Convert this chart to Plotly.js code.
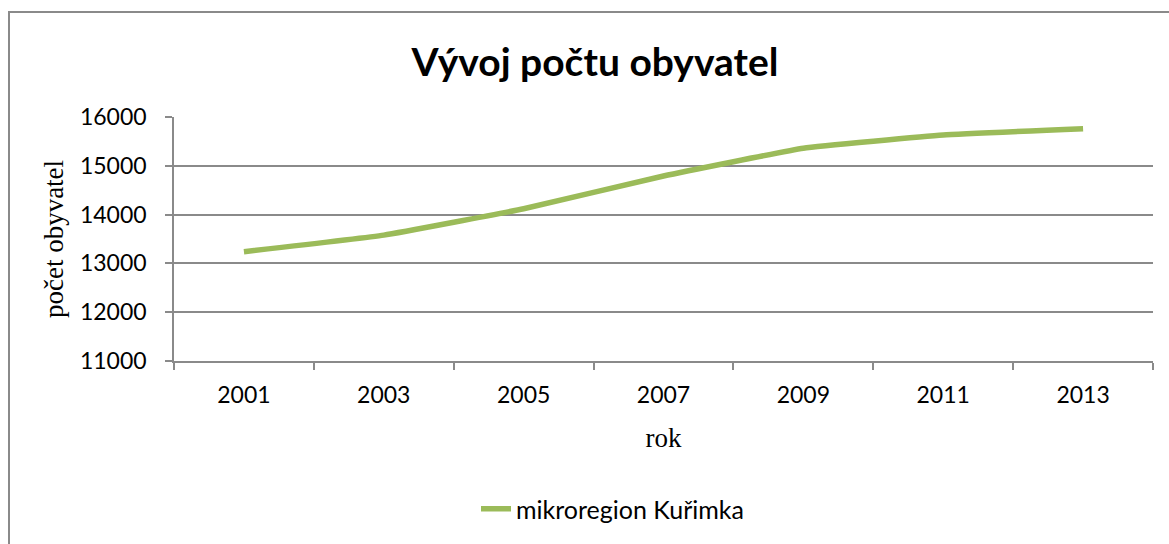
<!DOCTYPE html>
<html>
<head>
<meta charset="utf-8">
<script src="https://cdn.plot.ly/plotly-3.0.1.min.js"></script>
<style>
  html, body { margin: 0; padding: 0; background: #ffffff; }
  #wrap { position: relative; width: 1169px; height: 544px; overflow: hidden; }
  #chart { position: absolute; left: 0; top: 0; width: 1169px; height: 544px; }
  #frame { position: absolute; left: 8px; top: 11px; width: 1200px; height: 600px;
           border-left: 2px solid #8a8a8a; border-top: 2px solid #8a8a8a; pointer-events: none; }
</style>
</head>
<body>
<div id="wrap">
  <div id="chart"></div>
  <div id="frame"></div>
</div>
<script>
// Data
const years = ["2001", "2003", "2005", "2007", "2009", "2011", "2013"];
const population = [13240, 13580, 14120, 14790, 15360, 15630, 15760];
const seriesName = "mikroregion Kuřimka";
const chartTitle = "Vývoj počtu obyvatel";
const xTitle = "rok";
const yTitle = "počet obyvatel";
const yTicks = [11000, 12000, 13000, 14000, 15000, 16000];

const gridColor = "#8a8a8a";

const trace = {
  x: years,
  y: population,
  type: "scatter",
  mode: "lines",
  name: seriesName,
  line: { color: "#9bbb59", width: 5.5, shape: "spline", smoothing: 0.3 },
  hoverinfo: "x+y"
};

const layout = {
  width: 1169,
  height: 544,
  margin: { l: 174, r: 16, t: 117, b: 183 },
  paper_bgcolor: "#ffffff",
  plot_bgcolor: "#ffffff",
  title: {
    text: "<b>" + chartTitle + "</b>",
    font: { family: "Lato, 'Open Sans', sans-serif", size: 39, color: "#000000" },
    xref: "container", yref: "container",
    x: 595 / 1169, xanchor: "center",
    y: 1 - 62 / 544, yanchor: "middle"
  },
  xaxis: {
    type: "category",
    range: [-0.5, 6.5],
    showgrid: false,
    zeroline: false,
    showline: true,
    linecolor: gridColor,
    linewidth: 1.5,
    ticks: "outside",
    tickson: "boundaries",
    ticklen: 7,
    tickwidth: 1.5,
    tickcolor: gridColor,
    ticklabelstandoff: 13,
    tickfont: { family: "Lato, sans-serif", size: 23, color: "#000000" },
    title: {
      text: xTitle,
      font: { family: "'Liberation Serif', 'Times New Roman', serif", size: 27, color: "#000000" },
      standoff: 21
    },
    fixedrange: true
  },
  yaxis: {
    range: [11000, 16000],
    tickvals: yTicks,
    ticktext: yTicks.map(String),
    showgrid: true,
    gridcolor: gridColor,
    gridwidth: 1.5,
    zeroline: false,
    showline: true,
    linecolor: gridColor,
    linewidth: 1.5,
    ticks: "outside",
    ticklen: 7,
    tickwidth: 1.5,
    tickcolor: gridColor,
    ticklabelstandoff: 14,
    tickfont: { family: "Lato, sans-serif", size: 23, color: "#000000" },
    title: {
      text: yTitle,
      font: { family: "'Liberation Serif', 'Times New Roman', serif", size: 27, color: "#000000" },
      standoff: 8
    },
    fixedrange: true
  },
  showlegend: true,
  legend: {
    orientation: "h",
    xref: "container", yref: "container",
    x: 476 / 1169, xanchor: "left",
    y: 1 - 509 / 544, yanchor: "middle",
    font: { family: "Lato, sans-serif", size: 25, color: "#000000" },
    bgcolor: "rgba(0,0,0,0)"
  }
};

Plotly.newPlot("chart", [trace], layout, { displayModeBar: false });
</script>
</body>
</html>
